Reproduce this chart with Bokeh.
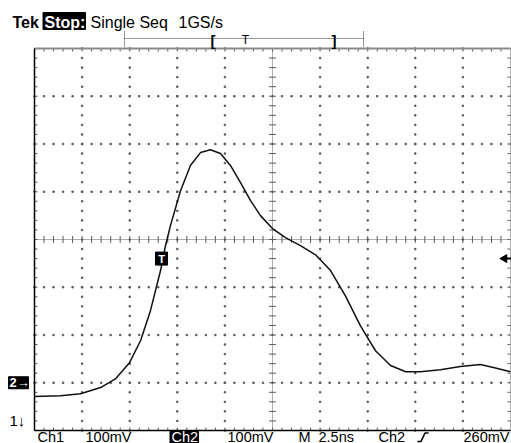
import numpy as np
from bokeh.plotting import figure
from bokeh.models import Range1d
from bokeh.core.properties import value
from bokeh.embed import file_html
from bokeh.resources import INLINE

# ---- data (Ch2 waveform) ----
time_ns = [-12.5, -11.13, -10.08, -9.03, -8.25, -7.51, -6.93, -6.41, -5.88, -5.62,
           -5.36, -4.83, -4.31, -3.78, -3.26, -2.73, -2.21, -1.68, -1.16, -0.63,
           0.0, 0.68, 1.47, 2.26, 3.05, 3.83, 4.62, 5.41, 6.20, 6.99,
           7.77, 8.82, 9.87, 10.92, 11.71, 12.5]
volt_mV = [-29, -27, -23, -10, 8, 42, 88, 151, 235, 287,
           329, 402, 455, 482, 488, 480, 455, 419, 382, 350,
           323, 304, 287, 268, 235, 182, 119, 67, 36, 23,
           23, 27, 34, 38, 31, 23]

trig_time_ns = -5.83
trig_level_mV = 260
ch2_ground_mV = 0
ch1_marker_mV = -80

header = ["Tek", "Stop:", "Single Seq", "1GS/s"]
footer = ["Ch1", "100mV", "Ch2", "100mV", "M", "2.5ns", "Ch2", "260mV"]
record_marks = ["[", "T", "]"]

# ---- screen geometry ----
T0, T1 = -12.5, 12.5
V0, V1 = -100, 700
T_DIV, V_DIV = 2.5, 100
VC = 300
W, H = 511, 443
FL, FR, FT, FB = 34, 510, 48, 430          # canvas pixels of the graticule
pxns = (FR - FL) / (T1 - T0)
pxmv = (FB - FT) / (V1 - V0)


def X(px):
    return T0 + (px - FL) / pxns


def Y(py):
    return V1 - (py - FT) / pxmv


p = figure(width=W, height=H, output_backend="svg", toolbar_location=None, tools="",
           x_range=Range1d(X(0), X(W)), y_range=Range1d(Y(H), Y(0)),
           x_axis_location=None, y_axis_location=None, min_border=0,
           outline_line_color=None)
p.min_border_left = p.min_border_right = p.min_border_top = p.min_border_bottom = 0
p.xgrid.visible = False
p.ygrid.visible = False
p.background_fill_color = "white"
p.border_fill_color = "white"

GRID = "#5c5c5c"
t_minor = np.arange(T0, T1 + 1e-9, T_DIV / 5)
v_minor = np.arange(V0, V1 + 1e-9, V_DIV / 5)
t_major = [T0 + k * T_DIV for k in range(1, 10) if k != 5]
v_major = [V0 + k * V_DIV for k in range(1, 8) if k != 4]

# dotted major grid lines
dx, dy = [], []
for t in t_major:
    for v in v_minor:
        dx.append(t); dy.append(v)
for v in v_major:
    for t in t_minor:
        dx.append(t); dy.append(v)
p.rect(x=dx, y=dy, width=1.4, height=1.4, width_units="screen", height_units="screen",
       color=GRID)

# centre crosshair
tk_t = 3.5 / pxns
tk_v = 3.5 / pxmv
p.line([0, 0], [V0, V1], line_dash="1 1", color=GRID, line_width=1)
p.line([T0, T1], [VC, VC], line_dash="1 1", color=GRID, line_width=1)
p.segment(x0=[-tk_t] * len(v_minor), x1=[tk_t] * len(v_minor), y0=v_minor, y1=v_minor,
          color=GRID, line_width=1)
p.segment(x0=t_minor, x1=t_minor, y0=[VC - tk_v] * len(t_minor), y1=[VC + tk_v] * len(t_minor),
          color=GRID, line_width=1)

# border ticks
bt_t = 3 / pxns
bt_v = 3 / pxmv
n_t, n_v = len(t_minor), len(v_minor)
p.segment(x0=t_minor, x1=t_minor, y0=[V1] * n_t, y1=[V1 - bt_v] * n_t, color=GRID)
p.segment(x0=t_minor, x1=t_minor, y0=[V0] * n_t, y1=[V0 + bt_v] * n_t, color=GRID)
p.segment(x0=[T0] * n_v, x1=[T0 + bt_t] * n_v, y0=v_minor, y1=v_minor, color=GRID)
p.segment(x0=[T1] * n_v, x1=[T1 - bt_t] * n_v, y0=v_minor, y1=v_minor, color=GRID)

# borders
p.line([T0, T1], [V1, V1], color="#8a8a8a", line_width=2)
p.line([T1, T1], [V0, V1], color="#b0b0b0", line_width=1)
p.line([T0, T0], [V0, V1], color="black", line_width=1.5)
p.line([T0, T1], [V0, V0], color="black", line_width=1.5)

# waveform
p.line(time_ns, volt_mV, color="#111111", line_width=1.5)


def txt(px, py, s, size=16, color="black", bold=False, align="left",
        baseline="alphabetic", font="Liberation Sans"):
    p.text(x=[X(px)], y=[Y(py)], text=[s], text_font=value(font),
           text_font_size=value(f"{size}px"),
           text_font_style="bold" if bold else "normal",
           text_color=color, text_align=align, text_baseline=baseline)


def box(x0, y0, x1, y1):
    p.quad(left=[X(x0)], right=[X(x1)], top=[Y(y0)], bottom=[Y(y1)], color="black")


# header
HB = 22
txt(12, HB, header[0], bold=True)
box(42.5, 12, 85, 29)
txt(44, HB, header[1], color="white", bold=True)
txt(90, HB, header[2])
txt(178, HB, header[3])

# record bar
p.line([X(124), X(363)], [Y(38), Y(38)], line_dash="1 1", color="#333333")
p.segment(x0=[X(124), X(363)], x1=[X(124), X(363)], y0=[Y(31), Y(31)], y1=[Y(47), Y(47)],
          line_dash="1 1", color="#333333")
txt(210, 40, record_marks[0], size=15, bold=True)
txt(245, 39, record_marks[1], size=12, align="center")
txt(331, 40, record_marks[2], size=15, bold=True)

# footer
BASE = 436
FS = 14.5
txt(37, BASE, footer[0], size=FS)
txt(85, BASE, footer[1], size=FS)
box(169.5, 431, 198, 444)
txt(171, BASE, footer[2], size=FS, color="white")
txt(227, BASE, footer[3], size=FS)
txt(298, BASE, footer[4], size=FS)
txt(318, BASE, footer[5], size=FS)
txt(378, BASE, footer[6], size=FS)
p.line([X(417), X(420.5), X(424.5), X(428)], [Y(441), Y(441), Y(432.5), Y(432.5)],
       color="black", line_width=1.6)
txt(509, BASE, footer[7], size=FS, align="right")

# channel markers
p.quad(left=[X(8)], right=[X(28)], top=[ch2_ground_mV + 6 / pxmv],
       bottom=[ch2_ground_mV - 6 / pxmv], color="black")
p.text(x=[X(9)], y=[ch2_ground_mV], text=["2→"], text_font=value("Liberation Sans"),
       text_font_size=value("13px"), text_font_style="bold", text_color="white",
       text_baseline="middle")
p.text(x=[X(9)], y=[ch1_marker_mV], text=["1↓"], text_font=value("Liberation Sans"),
       text_font_size=value("15px"), text_color="black", text_baseline="middle")

# trigger marker on trace and level arrow
p.rect(x=[trig_time_ns], y=[trig_level_mV], width=12, height=13,
       width_units="screen", height_units="screen", color="black")
p.text(x=[trig_time_ns], y=[trig_level_mV], text=["T"], text_font=value("Liberation Sans"),
       text_font_size=value("11px"), text_font_style="bold", text_color="white",
       text_align="center", text_baseline="middle")
p.segment(x0=[X(504)], x1=[X(511)], y0=[trig_level_mV], y1=[trig_level_mV],
          color="black", line_width=2)
p.scatter(x=[X(504)], y=[trig_level_mV], marker="triangle", angle=np.pi / 2, size=8,
          color="black")

open("out.html", "w").write(file_html(p, INLINE))
